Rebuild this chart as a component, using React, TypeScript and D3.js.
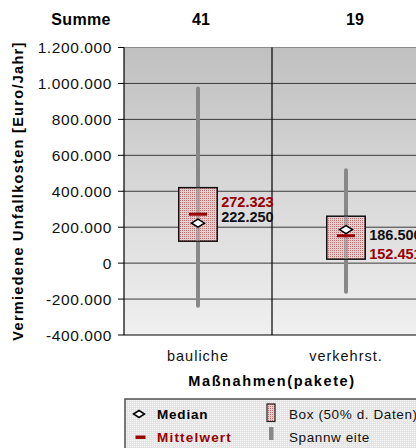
import React from "react";
import * as d3 from "d3";

const categories = ["bauliche", "verkehrst."];
const counts = ["41", "19"];
const whiskerMin = [-237000, -159000];
const whiskerMax = [972000, 517000];
const boxLow = [122000, 22000];
const boxHigh = [420000, 261000];
const means = [272323, 152451];
const medians = [222250, 186500];
const meanLabels = ["272.323", "152.451"];
const medianLabels = ["222.250", "186.500"];
const yTicks = [-400000, -200000, 0, 200000, 400000, 600000, 800000, 1000000, 1200000];
const yTickLabels = ["-400.000", "-200.000", "0", "200.000", "400.000", "600.000", "800.000", "1.000.000", "1.200.000"];

const W = 416;
const H = 448;
const FONT = "'Liberation Sans', Arial, Helvetica, sans-serif";
const DARKRED = "#990000";

// label vertical offsets relative to mark (layout only)
const meanLabelDy = [-12, 18];
const medianLabelDy = [-6, 5];
const headerDx = [3, 9];

export default function App() {
  const plotLeft = 124;
  const plotRight = 420;
  const plotTop = 47.5;
  const plotBottom = 335;

  const x = d3.scaleBand<string>().domain(categories).range([plotLeft, plotRight]).padding(0);
  const y = d3.scaleLinear().domain([-400000, 1200000]).range([plotBottom, plotTop]);
  const bw = x.bandwidth();
  const boxW = bw * 0.26;
  const meanW = 18;

  return (
    <svg
      width={W}
      height={H}
      style={{ position: "absolute", left: 0, top: 0, background: "#fff" }}
      fontFamily={FONT}
    >
      <defs>
        <linearGradient id="bg" x1="0" y1="0" x2="0" y2="1">
          <stop offset="0" stopColor="#c0c0c0" />
          <stop offset="1" stopColor="#f0f0f0" />
        </linearGradient>
        <pattern id="boxpat" width="2" height="2" patternUnits="userSpaceOnUse">
          <rect width="2" height="2" fill="#e9cfcf" />
          <rect width="1" height="1" fill="#b67070" />
        </pattern>
        <pattern id="legpat" width="2" height="2" patternUnits="userSpaceOnUse">
          <rect width="2" height="2" fill="#e4e4e4" />
          <rect width="1" height="1" fill="#f8f8f8" />
        </pattern>
      </defs>

      {/* plot background */}
      <rect x={plotLeft} y={plotTop} width={plotRight - plotLeft} height={plotBottom - plotTop} fill="url(#bg)" />
      <line x1={plotLeft} x2={plotRight} y1={plotTop} y2={plotTop} stroke="#8a8a8a" strokeWidth={1} />

      {/* gridlines */}
      {yTicks.slice(1, -1).map((t) => (
        <line key={t} x1={plotLeft} x2={plotRight} y1={y(t)} y2={y(t)} stroke="#3a3a3a" strokeWidth={1} />
      ))}
      <line x1={plotLeft} x2={plotRight} y1={y(-400000)} y2={y(-400000)} stroke="#000" strokeWidth={1} />

      {/* category divider */}
      {categories.slice(1).map((c) => (
        <line key={c} x1={x(c)!} x2={x(c)!} y1={plotTop} y2={plotBottom} stroke="#000" strokeWidth={1.2} />
      ))}

      {/* y axis */}
      <line x1={plotLeft} x2={plotLeft} y1={plotTop} y2={plotBottom} stroke="#000" strokeWidth={1.2} />
      {yTicks.map((t, i) => (
        <g key={t}>
          <line x1={plotLeft - 6} x2={plotLeft} y1={y(t)} y2={y(t)} stroke="#000" strokeWidth={1} />
          <text
            x={112}
            y={y(t)}
            dy="0.36em"
            textAnchor="end"
            fontSize={15.5}
            letterSpacing={0.6}
            fill="#111"
          >
            {yTickLabels[i]}
          </text>
        </g>
      ))}

      {/* boxes */}
      {categories.map((c, i) => {
        const cx = x(c)! + bw / 2;
        const ym = y(means[i]);
        const yd = y(medians[i]);
        return (
          <g key={c}>
            <line
              x1={cx}
              x2={cx}
              y1={y(whiskerMax[i])}
              y2={y(whiskerMin[i])}
              stroke="#888"
              strokeWidth={4}
              strokeLinecap="round"
            />
            <rect
              x={cx - boxW / 2}
              y={y(boxHigh[i])}
              width={boxW}
              height={y(boxLow[i]) - y(boxHigh[i])}
              fill="url(#boxpat)"
              stroke="#111"
              strokeWidth={1.5}
            />
            <line
              x1={cx}
              x2={cx}
              y1={y(boxHigh[i])}
              y2={y(boxLow[i])}
              stroke="#888"
              strokeOpacity={0.55}
              strokeWidth={4}
            />
            <line x1={cx - meanW / 2} x2={cx + meanW / 2} y1={ym} y2={ym} stroke={DARKRED} strokeWidth={3} />
            <path
              d={`M${cx - 6.5},${yd} L${cx},${yd - 4} L${cx + 6.5},${yd} L${cx},${yd + 4} Z`}
              fill="#fff"
              stroke="#000"
              strokeWidth={1.5}
            />
            <text
              x={cx + boxW / 2 + 4}
              y={ym + meanLabelDy[i]}
              dy="0.36em"
              fontSize={14.5}
              fontWeight="bold"
              fill={DARKRED}
            >
              {meanLabels[i]}
            </text>
            <text
              x={cx + boxW / 2 + 4}
              y={yd + medianLabelDy[i]}
              dy="0.36em"
              fontSize={14.5}
              fontWeight="bold"
              fill="#111"
            >
              {medianLabels[i]}
            </text>
          </g>
        );
      })}

      {/* header */}
      <text x={81} y={19} dy="0.36em" textAnchor="middle" fontSize={16} fontWeight="bold" letterSpacing={0.3}>
        Summe
      </text>
      {categories.map((c, i) => (
        <text
          key={c}
          x={x(c)! + bw / 2 + headerDx[i]}
          y={19}
          dy="0.36em"
          textAnchor="middle"
          fontSize={16}
          fontWeight="bold"
        >
          {counts[i]}
        </text>
      ))}

      {/* x labels */}
      {categories.map((c) => (
        <text
          key={c}
          x={x(c)! + bw / 2}
          y={356}
          dy="0.36em"
          textAnchor="middle"
          fontSize={14.5}
          letterSpacing={1}
          fill="#111"
        >
          {c}
        </text>
      ))}
      <text x={272} y={381} dy="0.36em" textAnchor="middle" fontSize={14.5} fontWeight="bold" letterSpacing={1.6}>
        Maßnahmen(pakete)
      </text>

      {/* y title */}
      <text
        transform={`translate(18,191) rotate(-90)`}
        dy="0.36em"
        textAnchor="middle"
        fontSize={14.5}
        fontWeight="bold"
        letterSpacing={1.3}
      >
        Vermiedene Unfallkosten [Euro/Jahr]
      </text>

      {/* legend */}
      <rect x={125} y={399} width={310} height={70} fill="url(#legpat)" stroke="#505050" strokeWidth={1.5} />
      <path d="M133.5,414 L139,410.5 L144.5,414 L139,417.5 Z" fill="#fff" stroke="#000" strokeWidth={1.5} />
      <text x={157} y={414} dy="0.36em" fontSize={13.5} fontWeight="bold" letterSpacing={0.8}>
        Median
      </text>
      <rect x={135.5} y={435.5} width={10} height={3.5} fill={DARKRED} />
      <text x={157} y={437} dy="0.36em" fontSize={13.5} fontWeight="bold" letterSpacing={1.2} fill={DARKRED}>
        Mittelwert
      </text>
      <rect x={267} y={404} width={8} height={17.5} fill="url(#boxpat)" stroke="#222" strokeWidth={1.2} />
      <text x={289} y={414} dy="0.36em" fontSize={13.5} letterSpacing={0.6} fill="#111">
        Box (50% d. Daten)
      </text>
      <rect x={269} y={427} width={4.5} height={13} fill="#888" />
      <text x={289} y={437} dy="0.36em" fontSize={13.5} letterSpacing={0.6} fill="#111">
        Spannw eite
      </text>
    </svg>
  );
}
